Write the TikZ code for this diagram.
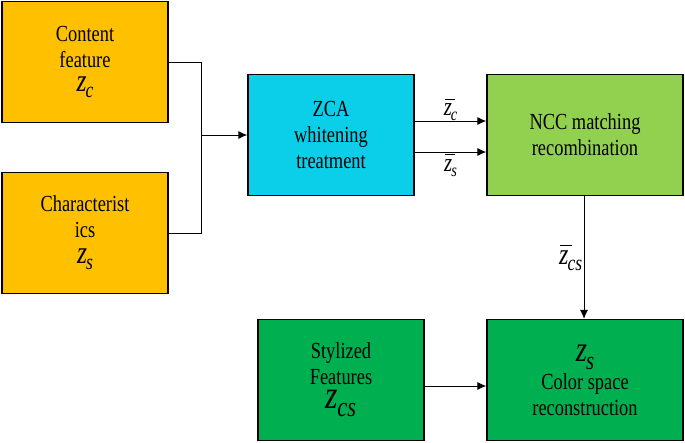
\documentclass[tikz,border=0pt]{standalone}
\usetikzlibrary{arrows.meta}
\usepackage{fontspec}
\setmainfont{Liberation Serif}[FakeStretch=0.8]
\newcommand{\zz}[4]{{\fontsize{#1}{#1}\selectfont\itshape z}\kern-1pt\raisebox{-#3pt}{\fontsize{#2}{#2}\selectfont\itshape #4}}
\newcommand{\zb}[4]{\makebox[0pt][l]{\kern1pt\raisebox{0.62\dimexpr#1pt\relax}{\rule{0.38\dimexpr#1pt\relax}{1.1pt}}}\zz{#1}{#2}{#3}{#4}}
\begin{document}
\begin{tikzpicture}[x=1pt,y=-1pt,
  box/.style={draw=black,line width=1.2pt,inner sep=0pt,align=center,font=\fontsize{23}{26}\selectfont},
  arr/.style={-{Latex[length=9pt,width=8pt]},line width=1pt},
  ln/.style={line width=1pt}]
\useasboundingbox (0,0) rectangle (685,442);
\definecolor{orng}{HTML}{FFC000}
\definecolor{cyn}{HTML}{0BCFE8}
\definecolor{lgrn}{HTML}{92D050}
\definecolor{dgrn}{HTML}{00B050}
\node[box,fill=orng,minimum width=166pt,minimum height=121pt] (cf) at (85,62) {Content\\feature\\[-2pt]\zz{32}{22}{6}{c}};
\node[box,fill=orng,minimum width=166pt,minimum height=121pt] (ch) at (85,233) {Characterist\\ics\\[0pt]\zz{32}{22}{6}{s}};
\node[box,fill=cyn,minimum width=166pt,minimum height=121pt] (zca) at (331,135) {ZCA\\whitening\\treatment};
\node[box,fill=lgrn,minimum width=196pt,minimum height=121pt] (ncc) at (585,135) {NCC matching\\recombination};
\node[box,fill=dgrn,minimum width=166pt,minimum height=121pt] (sf) at (341,380) {Stylized\\Features\\[-2pt]\zz{40}{28}{8}{cs}};
\node[box,fill=dgrn,minimum width=196pt,minimum height=121pt] (cs) at (585,380) {\zz{36}{26}{8}{s}\\[2pt]Color space\\reconstruction};
\coordinate (j) at (201,135);
\draw[ln] (cf.east) -| (j);
\draw[ln] (ch.east) -| (j);
\draw[arr] (j) -- (zca.west);
\draw[arr] ([yshift=14pt]zca.east) -- node[above,yshift=-4pt]{\zb{26}{18}{5}{c}} ([yshift=14pt]ncc.west);
\draw[arr] ([yshift=-17pt]zca.east) -- node[below,yshift=2pt]{\zb{26}{18}{5}{s}} ([yshift=-17pt]ncc.west);
\draw[arr] ([xshift=-1pt]ncc.south) -- node[left,pos=0.5,xshift=2pt]{\zb{30}{22}{6}{cs}} ([xshift=-1pt]cs.north);
\draw[arr] ([yshift=-6pt]sf.east) -- ([yshift=-6pt]cs.west);
\end{tikzpicture}
\end{document}
